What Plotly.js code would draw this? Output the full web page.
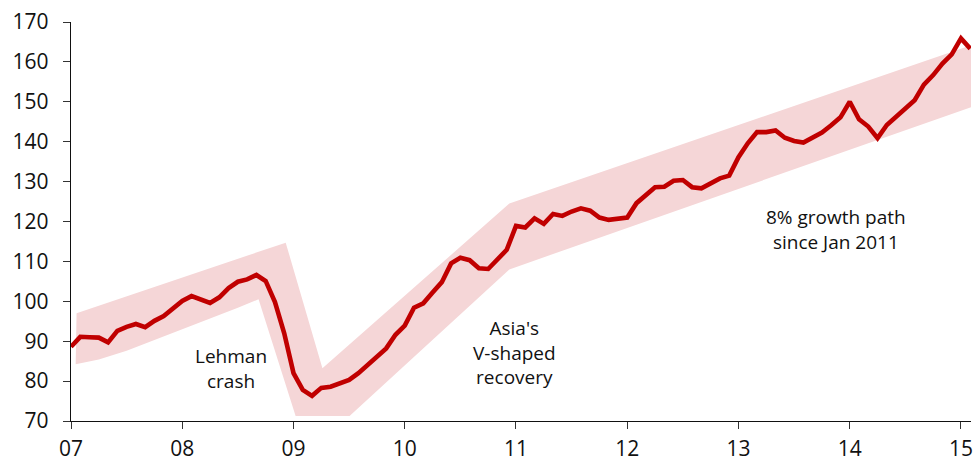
<!DOCTYPE html>
<html>
<head>
<meta charset="utf-8">
<script src="https://cdn.plot.ly/plotly-3.0.1.min.js"></script>
<style>
html,body{margin:0;padding:0;background:#fff;}
#chart{width:976px;height:456px;}
</style>
</head>
<body>
<div id="chart"></div>
<script>
// ---- data ----
const startYear = 2007;
// monthly index, Jan 2007 .. Feb 2015
const indexValues = [
  88.6, 91.1, 91.0, 90.9, 89.7, 92.6, 93.6, 94.3, 93.5, 95.1, 96.3, 98.1,
  100.1, 101.3, 100.3, 99.6, 101.0, 103.3, 104.9, 105.5, 106.6, 105.1, 99.8, 92.0,
  82.0, 77.8, 76.3, 78.3, 78.6, 79.4, 80.3, 82.0, 84.0, 86.1, 88.2, 91.6,
  93.9, 98.4, 99.5, 102.2, 104.8, 109.5, 110.9, 110.3, 108.3, 108.1, 110.4, 112.9,
  118.9, 118.5, 120.8, 119.4, 121.9, 121.4, 122.5, 123.3, 122.7, 121.0, 120.4, 120.8,
  121.0, 124.6, 126.6, 128.6, 128.7, 130.2, 130.4, 128.6, 128.3, 129.4, 130.8, 131.5,
  136.1, 139.6, 142.4, 142.4, 142.8, 141.0, 140.2, 139.8, 141.1, 142.3, 144.1, 146.1,
  150.0, 145.6, 143.8, 140.9, 144.2, 146.3, 148.3, 150.4, 154.3, 156.7, 159.6, 161.9,
  165.9, 163.3
];
// shaded band (trend corridor) outline, going along the top then back along the bottom
const bandX = [2007.05, 2008.93, 2009.26, 2010.94, 2015.105,
               2015.105, 2010.94, 2009.504, 2009.019, 2008.686,
               2008.5, 2008.25, 2008.0, 2007.75, 2007.5, 2007.25, 2007.042];
const bandY = [97.0, 114.7, 83.2, 124.5, 164.3,
               148.8, 108.0, 71.25, 71.25, 100.5,
               98.4, 95.7, 92.9, 90.1, 87.6, 85.4, 84.2];
const xTickVals = [2007, 2008, 2009, 2010, 2011, 2012, 2013, 2014, 2015];
const xTickText = ['07', '08', '09', '10', '11', '12', '13', '14', '15'];
const yTickVals = [70, 80, 90, 100, 110, 120, 130, 140, 150, 160, 170];
const noteTexts = ['Lehman<br>crash', "Asia's<br>V-shaped<br>recovery", '8% growth path<br>since Jan 2011'];

// ---- chart ----
const monthX = indexValues.map((_, i) => startYear + i / 12);

const traces = [
  {
    x: bandX, y: bandY, type: 'scatter', mode: 'lines',
    fill: 'toself', fillcolor: '#f5d6d7',
    line: {width: 0, color: 'rgba(0,0,0,0)'},
    hoverinfo: 'skip'
  },
  {
    x: monthX, y: indexValues, type: 'scatter', mode: 'lines',
    line: {color: '#c00000', width: 4.6},
    hoverinfo: 'skip'
  }
];

const noteFont = {family: 'Open Sans, sans-serif', size: 19, color: '#111'};
const notePos = [
  [2008.436, 83.2],
  [2010.985, 87.1],
  [2013.879, 117.9]
];
const annotations = noteTexts.map((t, i) => ({
  text: t, x: notePos[i][0], y: notePos[i][1], xref: 'x', yref: 'y',
  xanchor: 'center', yanchor: 'middle', align: 'center', showarrow: false, font: noteFont
}));

const tickFont = {family: 'Open Sans, sans-serif', size: 21, color: '#111'};
const layout = {
  width: 976, height: 456,
  margin: {l: 71, r: 5, t: 22, b: 35, pad: 0},
  paper_bgcolor: '#ffffff', plot_bgcolor: '#ffffff',
  showlegend: false,
  font: {family: 'Open Sans, sans-serif', size: 21, color: '#111'},
  xaxis: {
    range: [2007, 2015.09], tickmode: 'array', tickvals: xTickVals, ticktext: xTickText,
    ticks: 'outside', ticklen: 7, tickwidth: 1, tickcolor: '#333',
    showline: true, linecolor: '#111', linewidth: 1.2,
    showgrid: false, zeroline: false, ticklabelstandoff: 2,
    tickfont: tickFont
  },
  yaxis: {
    range: [70, 170], tickmode: 'array', tickvals: yTickVals,
    ticks: 'outside', ticklen: 7, tickwidth: 1, tickcolor: '#333',
    showline: true, linecolor: '#111', linewidth: 1.2,
    showgrid: false, zeroline: false, ticklabelstandoff: 10,
    tickfont: tickFont
  },
  annotations: annotations
};

Plotly.newPlot('chart', traces, layout, {staticPlot: true, displayModeBar: false});
</script>
</body>
</html>
